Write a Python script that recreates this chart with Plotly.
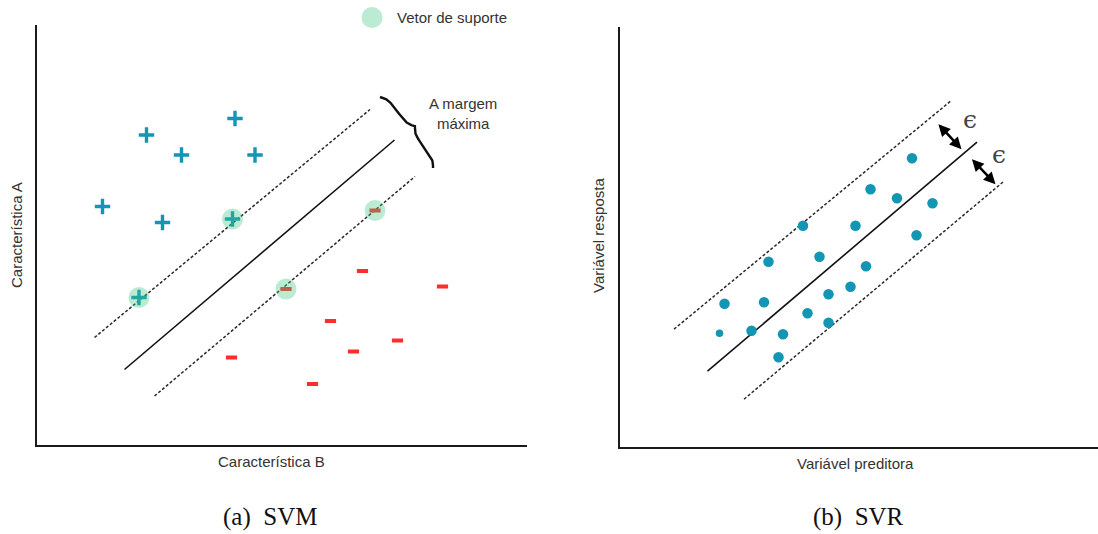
import numpy as np
import plotly.graph_objects as go

# ---------------- (a) SVM : two classes separated by a maximum-margin hyperplane
plus_x = [2.19, 3.96, 2.89, 4.36, 1.31, 2.51, 3.91, 2.04]
plus_y = [6.20, 6.53, 5.80, 5.80, 4.77, 4.45, 4.52, 2.95]
minus_x = [6.76, 6.51, 8.11, 4.98, 5.87, 7.21, 6.33, 3.89, 5.51]
minus_y = [4.69, 3.48, 3.17, 3.12, 2.48, 2.09, 1.87, 1.75, 1.22]
plus_sv = [6, 7]      # indices of support vectors in the "+" class
minus_sv = [0, 3]     # indices of support vectors in the "-" class

# hyperplane and margins (start/end points)
svm_upper_x, svm_upper_y = [1.15, 6.66], [2.15, 6.71]
svm_mid_x, svm_mid_y = [1.75, 7.15], [1.51, 6.10]
svm_lower_x, svm_lower_y = [2.35, 7.56], [0.98, 5.37]
brace_ends_x, brace_ends_y = [6.86, 7.92], [6.96, 5.54]

# ---------------- (b) SVR : regression tube of width epsilon
svr_x = [5.84, 5.01, 5.54, 6.25, 3.66, 4.71, 5.93, 2.97, 3.99, 4.92,
         4.61, 4.17, 2.09, 2.88, 3.75, 4.17, 1.99, 2.63, 3.26, 3.17]
svr_y = [5.77, 5.15, 4.97, 4.87, 4.42, 4.42, 4.23, 3.70, 3.80, 3.61,
         3.20, 3.05, 2.86, 2.89, 2.67, 2.48, 2.27, 2.32, 2.25, 1.79]
svr_upper_x, svr_upper_y = [1.08, 6.61], [2.35, 6.91]
svr_mid_x, svr_mid_y = [1.75, 7.14], [1.51, 6.09]
svr_lower_x, svr_lower_y = [2.48, 7.68], [0.95, 5.31]
eps_arrow_x0 = [6.34, 7.01]
eps_arrow_y0 = [6.48, 5.78]
eps_arrow_x1 = [6.83, 7.51]
eps_arrow_y1 = [5.95, 5.25]
eps_label_x = [6.99, 7.58]
eps_label_y = [6.55, 5.85]

W, H = 1098, 534
TEAL = "#1296b3"
RED = "#ff2d2d"
SV_FILL = "rgba(60,200,130,0.35)"
INK = "#333333"
SANS = "Liberation Sans, Arial, sans-serif"

fig = go.Figure()


def add_line(x, y, xa, ya, dash, width, color):
    fig.add_trace(go.Scatter(x=x, y=y, mode="lines", xaxis=xa, yaxis=ya,
                             line=dict(color=color, width=width, dash=dash),
                             hoverinfo="skip", showlegend=False))


def brace_path(xe, ye, depth=0.21, q=0.075, n=121):
    p1 = np.array([xe[0], ye[0]])
    p2 = np.array([xe[1], ye[1]])
    u = (p2 - p1) / np.linalg.norm(p2 - p1)
    nrm = np.array([-u[1], u[0]])
    s = np.linspace(0, 1, n)
    sh = np.minimum(s, 1 - s)
    v = depth / 2 * np.tanh(sh / q) + depth / 2 * (1 + np.tanh((sh - 0.5) / q))
    pts = p1[None, :] + np.outer(s, p2 - p1) + np.outer(v, nrm)
    return pts[:, 0], pts[:, 1]


# ----- panel (a)
add_line(svm_upper_x, svm_upper_y, "x", "y", "3px,2px", 1.5, "#2a2a2a")
add_line(svm_lower_x, svm_lower_y, "x", "y", "3px,2px", 1.5, "#2a2a2a")
add_line(svm_mid_x, svm_mid_y, "x", "y", "solid", 1.6, "#111111")
bx, by = brace_path(brace_ends_x, brace_ends_y)
add_line(list(bx), list(by), "x", "y", "solid", 2.4, "#111111")

fig.add_trace(go.Scatter(x=plus_x, y=plus_y, mode="markers", xaxis="x", yaxis="y",
                         marker=dict(symbol="cross-thin", size=11, opacity=1,
                                     line=dict(color=TEAL, width=3.4)),
                         hoverinfo="skip", showlegend=False))
fig.add_trace(go.Scatter(x=minus_x, y=minus_y, mode="markers", xaxis="x", yaxis="y",
                         marker=dict(symbol="line-ew", size=8, opacity=1,
                                     line=dict(color=RED, width=4)),
                         hoverinfo="skip", showlegend=False))
sv_x = [plus_x[i] for i in plus_sv] + [minus_x[i] for i in minus_sv]
sv_y = [plus_y[i] for i in plus_sv] + [minus_y[i] for i in minus_sv]
fig.add_trace(go.Scatter(x=sv_x, y=sv_y, mode="markers", xaxis="x", yaxis="y",
                         marker=dict(symbol="circle", size=21, color=SV_FILL,
                                     opacity=1, line=dict(width=0)),
                         hoverinfo="skip", showlegend=False))

# ----- panel (b)
add_line(svr_upper_x, svr_upper_y, "x2", "y2", "3px,2px", 1.5, "#2a2a2a")
add_line(svr_lower_x, svr_lower_y, "x2", "y2", "3px,2px", 1.5, "#2a2a2a")
add_line(svr_mid_x, svr_mid_y, "x2", "y2", "solid", 1.6, "#111111")
dot_size = [10.5] * len(svr_x)
dot_size[16] = 7.5
fig.add_trace(go.Scatter(x=svr_x, y=svr_y, mode="markers", xaxis="x2", yaxis="y2",
                         marker=dict(symbol="circle", size=dot_size, color=TEAL,
                                     opacity=1, line=dict(width=0)),
                         hoverinfo="skip", showlegend=False))

annotations = []
for x0, y0, x1, y1 in zip(eps_arrow_x0, eps_arrow_y0, eps_arrow_x1, eps_arrow_y1):
    annotations.append(dict(x=x1, y=y1, ax=x0, ay=y0, xref="x2", yref="y2",
                            axref="x2", ayref="y2", text="", showarrow=True,
                            arrowhead=2, startarrowhead=2, arrowside="end+start",
                            arrowsize=0.95, startarrowsize=0.95,
                            arrowwidth=2.5, arrowcolor="#000000"))
for xl, yl in zip(eps_label_x, eps_label_y):
    annotations.append(dict(x=xl, y=yl, xref="x2", yref="y2", text="ϵ",
                            showarrow=False, xanchor="center", yanchor="middle",
                            font=dict(family="DejaVu Serif", size=25, color="#444444")))


def px_note(text, px, py, size=15, angle=0, family=SANS, color=INK, align="center"):
    annotations.append(dict(text=text, x=px / W, y=1 - py / H, xref="paper",
                            yref="paper", showarrow=False, xanchor="center",
                            yanchor="middle", textangle=angle, align=align,
                            font=dict(family=family, size=size, color=color)))


px_note("A margem<br>máxima", 463, 114)
px_note("Característica B", 271, 461)
px_note("Característica A", 16.5, 235.5, angle=-90)
px_note("Variável preditora", 855, 463)
px_note("Variável resposta", 599, 236, angle=-90)
px_note("(a)\u2002SVM", 269.5, 517, size=25, family="Liberation Serif, serif", color="#111111")
px_note("(b)\u2002SVR", 858, 517, size=25, family="Liberation Serif, serif", color="#111111")

# key for the support-vector marker
annotations.append(dict(text="Vetor de suporte", x=395 / W, y=1 - 17.5 / H,
                        xref="paper", yref="paper", showarrow=False,
                        xanchor="left", yanchor="middle",
                        font=dict(family=SANS, size=15, color=INK)))
shapes = [dict(type="circle", xref="paper", yref="paper",
               xsizemode="pixel", ysizemode="pixel",
               xanchor=372 / W, yanchor=1 - 17.5 / H,
               x0=-10.5, x1=10.5, y0=-10.5, y1=10.5,
               fillcolor=SV_FILL, line=dict(width=0))]

axis_common = dict(showgrid=False, zeroline=False, showticklabels=False,
                   ticks="", showline=True, linecolor="#1a1a1a", linewidth=2,
                   fixedrange=True)

fig.update_layout(
    width=W, height=H,
    margin=dict(l=0, r=0, t=0, b=0),
    paper_bgcolor="white", plot_bgcolor="white",
    xaxis=dict(domain=[37 / W, 527 / W], range=[0, 9.8], anchor="y", **axis_common),
    yaxis=dict(domain=[(H - 445) / H, (H - 25) / H], range=[0, 8.4], anchor="x", **axis_common),
    xaxis2=dict(domain=[620 / W, 1.0], range=[0, 9.56], anchor="y2", **axis_common),
    yaxis2=dict(domain=[(H - 446.7) / H, (H - 26.7) / H], range=[0, 8.4], anchor="x2", **axis_common),
    annotations=annotations,
    shapes=shapes,
    showlegend=False,
)

fig.write_html("out.html")
